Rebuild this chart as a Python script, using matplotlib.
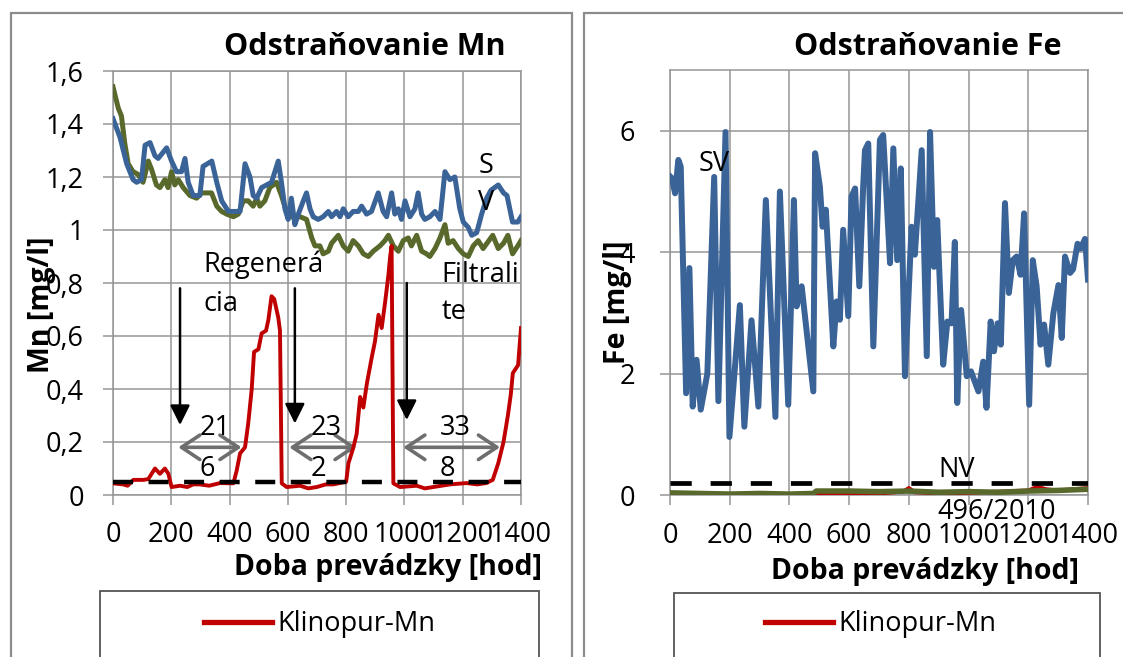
import matplotlib
matplotlib.use("Agg")
import matplotlib.pyplot as plt
from matplotlib.patches import Rectangle
from matplotlib.ticker import FuncFormatter
import numpy as np

plt.rcParams['font.family'] = ['Open Sans', 'DejaVu Sans']

# ---- Mn panel data ----
mn_sv = [(0, 1.42), (24, 1.35), (47, 1.25), (69, 1.19), (81, 1.18), (98, 1.19), (110, 1.32),
         (127, 1.33), (144, 1.28), (155, 1.27), (184, 1.31), (201, 1.26), (218, 1.22), (235, 1.22),
         (247, 1.27), (258, 1.18), (275, 1.13), (298, 1.13), (309, 1.24), (339, 1.26), (356, 1.18),
         (373, 1.11), (396, 1.07), (419, 1.07), (436, 1.07), (453, 1.25), (470, 1.20), (481, 1.13),
         (493, 1.12), (510, 1.16), (527, 1.17), (544, 1.18), (567, 1.26), (578, 1.18), (590, 1.08),
         (601, 1.04), (612, 1.12), (624, 1.02), (636, 1.06), (653, 1.11), (664, 1.14), (676, 1.08),
         (687, 1.05), (704, 1.04), (721, 1.05), (739, 1.07), (750, 1.05), (767, 1.07), (779, 1.05),
         (790, 1.08), (807, 1.05), (824, 1.07), (842, 1.07), (853, 1.09), (870, 1.06), (887, 1.07),
         (910, 1.14), (927, 1.07), (939, 1.05), (956, 1.14), (967, 1.06), (979, 1.08), (990, 1.04),
         (1002, 1.11), (1019, 1.05), (1036, 1.08), (1047, 1.14), (1059, 1.06), (1070, 1.04),
         (1087, 1.05), (1105, 1.07), (1122, 1.04), (1139, 1.22), (1156, 1.19), (1173, 1.20),
         (1190, 1.08), (1202, 1.03), (1219, 1.01), (1231, 0.98), (1248, 0.99), (1265, 1.06),
         (1282, 1.12), (1297, 1.15), (1322, 1.17), (1340, 1.14), (1352, 1.13), (1371, 1.03),
         (1389, 1.03), (1400, 1.05)]
mn_filt = [(0, 1.54), (18, 1.46), (29, 1.43), (40, 1.33), (52, 1.25), (69, 1.22), (86, 1.21),
           (103, 1.18), (121, 1.26), (132, 1.23), (149, 1.17), (161, 1.16), (178, 1.19), (189, 1.16),
           (201, 1.22), (212, 1.17), (224, 1.19), (241, 1.16), (264, 1.13), (287, 1.12), (304, 1.14),
           (321, 1.14), (338, 1.14), (356, 1.09), (373, 1.07), (390, 1.06), (413, 1.05), (430, 1.06),
           (447, 1.11), (464, 1.11), (481, 1.09), (493, 1.12), (504, 1.09), (521, 1.11), (538, 1.16),
           (561, 1.18), (578, 1.13), (595, 1.07), (607, 1.05), (642, 1.05), (664, 1.04), (682, 0.97),
           (693, 0.94), (710, 0.94), (721, 0.91), (739, 0.92), (750, 0.95), (773, 0.98), (790, 0.94),
           (807, 0.92), (824, 0.96), (842, 0.94), (859, 0.91), (876, 0.90), (893, 0.92), (916, 0.94),
           (933, 0.96), (945, 0.98), (962, 0.94), (979, 0.92), (996, 0.96), (1013, 0.97), (1024, 0.94),
           (1042, 0.98), (1059, 0.92), (1076, 0.91), (1087, 0.90), (1105, 0.93), (1122, 0.97),
           (1139, 1.02), (1150, 0.95), (1167, 0.96), (1185, 0.93), (1202, 0.91), (1219, 0.90),
           (1236, 0.94), (1253, 0.96), (1270, 0.93), (1303, 0.98), (1322, 0.93), (1340, 0.95),
           (1355, 0.98), (1371, 0.91), (1389, 0.94), (1400, 0.96)]
mn_klin = [(0, 0.044), (35, 0.04), (50, 0.035), (70, 0.057), (104, 0.057), (121, 0.06), (144, 0.10),
           (161, 0.08), (178, 0.10), (190, 0.08), (201, 0.03), (230, 0.035), (255, 0.03), (275, 0.04),
           (298, 0.04), (330, 0.035), (367, 0.045), (413, 0.044), (424, 0.09), (436, 0.157),
           (453, 0.18), (464, 0.27), (476, 0.40), (484, 0.54), (499, 0.55), (510, 0.61), (525, 0.62),
           (533, 0.66), (544, 0.75), (553, 0.74), (567, 0.67), (573, 0.62), (579, 0.044), (596, 0.03),
           (642, 0.035), (670, 0.025), (699, 0.03), (730, 0.04), (756, 0.04), (800, 0.05), (808, 0.12),
           (825, 0.18), (836, 0.23), (848, 0.37), (859, 0.33), (871, 0.42), (888, 0.52), (899, 0.58),
           (911, 0.68), (922, 0.63), (934, 0.73), (945, 0.83), (951, 0.90), (956, 0.94), (962, 0.044),
           (985, 0.03), (1042, 0.035), (1070, 0.025), (1099, 0.03), (1156, 0.04), (1213, 0.045),
           (1250, 0.04), (1280, 0.045), (1303, 0.057), (1322, 0.12), (1340, 0.20), (1355, 0.30),
           (1365, 0.38), (1372, 0.46), (1390, 0.49), (1400, 0.63)]
mn_limit = 0.05
mn_yticks = [0, 0.2, 0.4, 0.6, 0.8, 1.0, 1.2, 1.4, 1.6]
# regeneration arrows (x, y_from, y_to) and run lengths (x_start, x_end, label lines)
regen_arrows = [(230, 0.78, 0.264), (624, 0.78, 0.27), (1008, 0.80, 0.283)]
run_spans = [(224, 441, "21", "6"), (605, 836, "23", "2"), (996, 1328, "33", "8")]
run_label_x = [298, 677, 1122]

# ---- Fe panel data ----
fe_sv = [(0, 5.25), (6, 5.22), (17, 4.97), (28, 5.52), (36, 5.41), (54, 1.68), (65, 3.74), (76, 1.46),
         (89, 2.23), (103, 1.41), (125, 2.0), (148, 5.24), (162, 1.55), (186, 5.98), (199, 0.96),
         (234, 3.13), (249, 1.13), (273, 2.88), (296, 1.46), (321, 4.86), (353, 1.29), (368, 5.0),
         (396, 1.49), (415, 4.86), (424, 3.11), (441, 3.44), (480, 1.71), (486, 5.63), (502, 5.08),
         (511, 4.42), (522, 4.70), (547, 2.45), (558, 3.19), (569, 2.89), (580, 4.37), (597, 2.95),
         (608, 4.92), (620, 5.05), (634, 3.44), (647, 5.08), (653, 5.68), (664, 5.79), (681, 2.45),
         (703, 5.85), (714, 5.93), (737, 3.82), (748, 5.71), (761, 3.87), (773, 5.38), (787, 1.96),
         (809, 4.42), (820, 3.96), (843, 5.68), (860, 2.29), (871, 5.98), (884, 3.76), (895, 4.53),
         (915, 2.15), (929, 2.86), (943, 2.83), (954, 4.17), (962, 1.52), (975, 3.05), (994, 1.96),
         (1008, 2.04), (1033, 1.71), (1049, 2.20), (1060, 1.44), (1074, 2.86), (1085, 2.37),
         (1097, 2.83), (1108, 2.48), (1122, 4.81), (1135, 3.33), (1148, 3.87), (1161, 3.93),
         (1174, 3.63), (1186, 4.64), (1203, 1.49), (1215, 3.87), (1228, 3.44), (1241, 2.48),
         (1253, 2.81), (1267, 2.15), (1284, 3.0), (1301, 3.46), (1312, 2.59), (1323, 3.93),
         (1340, 3.66), (1350, 3.72), (1365, 4.14), (1375, 4.06), (1390, 4.22), (1400, 3.55)]
fe_filt = [(0, 0.04), (100, 0.03), (200, 0.02), (300, 0.03), (400, 0.02), (480, 0.03), (490, 0.07),
           (600, 0.07), (700, 0.06), (800, 0.07), (900, 0.05), (1000, 0.06), (1100, 0.05),
           (1200, 0.07), (1300, 0.08), (1400, 0.10)]
fe_klin = [(0, 0.03), (100, 0.02), (200, 0.01), (300, 0.02), (400, 0.02), (500, 0.03), (600, 0.02),
           (700, 0.03), (780, 0.06), (800, 0.12), (820, 0.05), (900, 0.03), (1000, 0.04), (1100, 0.06),
           (1200, 0.08), (1230, 0.14), (1260, 0.10), (1300, 0.08), (1400, 0.12)]
fe_limit = 0.2
fe_yticks = [0, 2, 4, 6]
x_ticks = [0, 200, 400, 600, 800, 1000, 1200, 1400]

c_sv = '#3A6397'
c_filt = '#58692B'
c_klin = '#C00000'
c_grid = '#969696'
c_frame = '#8C8C8C'
W, H = 1123, 657
FS = 19.5     # tick / annotation text
FS_B = 20.5   # bold axis titles

fig = plt.figure(figsize=(11.23, 6.57), dpi=100)


def fx(px):
    return px / W


def fy(py):
    return 1 - py / H


def style_axes(ax, yticks, ymax):
    ax.set_xlim(0, 1400)
    ax.set_ylim(0, ymax)
    ax.set_xticks(x_ticks)
    ax.set_yticks(yticks)
    ax.yaxis.set_major_formatter(FuncFormatter(lambda v, p: f"{v:g}".replace('.', ',')))
    ax.grid(True, color=c_grid, lw=1.1)
    ax.set_axisbelow(True)
    for s in ax.spines.values():
        s.set_color(c_grid)
        s.set_linewidth(1.1)
    ax.tick_params(axis='both', direction='out', length=7, width=1.1, color=c_grid,
                   labelsize=FS)
    ax.tick_params(axis='y', pad=14)
    ax.tick_params(axis='x', pad=12)


def xy(series):
    arr = np.array(series)
    return arr[:, 0], arr[:, 1]


# panel frames
fig.add_artist(Rectangle((fx(10.7), -0.2), fx(572 - 10.7), fy(13) + 0.2, transform=fig.transFigure,
                         fill=False, ec=c_frame, lw=1.6))
fig.add_artist(Rectangle((fx(584), -0.2), 0.6, fy(13) + 0.2, transform=fig.transFigure,
                         fill=False, ec=c_frame, lw=1.6))

# ---------- Mn ----------
ax1 = fig.add_axes([fx(113), fy(495), fx(521 - 113), fy(71) - fy(495)])
style_axes(ax1, mn_yticks, 1.6)
line_k, = ax1.plot(*xy(mn_klin), color=c_klin, lw=2.8, label='Klinopur-Mn', zorder=4)
ax1.plot(*xy(mn_filt), color=c_filt, lw=3.6, zorder=3)
ax1.plot(*xy(mn_sv), color=c_sv, lw=3.6, zorder=3)
ax1.axhline(mn_limit, color='black', lw=3.2, ls=(0, (4.5, 3.5)), zorder=5)

for x, y0, y1 in regen_arrows:
    ax1.annotate('', xy=(x, y1), xytext=(x, y0),
                 arrowprops=dict(arrowstyle='-|>,head_length=0.6,head_width=0.3', color='black',
                                 lw=1.8, mutation_scale=20, shrinkA=0, shrinkB=0))
for x0, x1, top, bot in run_spans:
    ax1.annotate('', xy=(x1, 0.18), xytext=(x0, 0.18),
                 arrowprops=dict(arrowstyle='<->,head_length=0.6,head_width=0.4', color='#6E6E6E',
                                 lw=2.6, mutation_scale=22, shrinkA=0, shrinkB=0))
for (x0, x1, top, bot), tx in zip(run_spans, run_label_x):
    ax1.text(tx, 0.253, top, fontsize=FS, ha='left', va='center', zorder=6)
    ax1.text(tx, 0.10, bot, fontsize=FS, ha='left', va='center', zorder=6)

ax1.text(310, 0.87, "Regenerá", fontsize=FS, ha='left', va='center')
ax1.text(310, 0.72, "cia", fontsize=FS, ha='left', va='center')
ax1.text(1128, 0.83, "Filtrali", fontsize=FS, ha='left', va='center')
ax1.text(1128, 0.69, "te", fontsize=FS, ha='left', va='center')
ax1.text(1253, 1.24, "S", fontsize=FS, ha='left', va='center')
ax1.text(1253, 1.10, "V", fontsize=FS, ha='left', va='center')

fig.text(fx(365), fy(47), "Odstraňovanie Mn", fontsize=22, fontweight='bold', ha='center', va='center')
fig.text(fx(388), fy(567), "Doba prevádzky [hod]", fontsize=FS_B, fontweight='bold', ha='center', va='center')
fig.text(fx(41), fy(305), "Mn [mg/l]", fontsize=FS_B, fontweight='bold', rotation=90, ha='center', va='center')

# ---------- Fe ----------
ax2 = fig.add_axes([fx(670), fy(495.3), fx(1088 - 670), fy(70) - fy(495.3)])
style_axes(ax2, fe_yticks, 7)
ax2.tick_params(axis='y', pad=18)
line_k2, = ax2.plot(*xy(fe_klin), color=c_klin, lw=2.8, label='Klinopur-Mn', zorder=3)
ax2.plot(*xy(fe_filt), color=c_filt, lw=4.0, zorder=3)
ax2.plot(*xy(fe_sv), color=c_sv, lw=4.3, zorder=4)
ax2.axhline(fe_limit, color='black', lw=3.4, ls=(0, (4.5, 4)), zorder=5)
ax2.text(95, 5.46, "SV", fontsize=FS, ha='left', va='center', zorder=6)
ax2.text(898, 0.42, "NV", fontsize=FS, ha='left', va='center', zorder=6)
ax2.text(894, -0.27, "496/2010", fontsize=FS, ha='left', va='center', zorder=6)

fig.text(fx(927.5), fy(47), "Odstraňovanie Fe", fontsize=22, fontweight='bold', ha='center', va='center')
fig.text(fx(925), fy(572), "Doba prevádzky [hod]", fontsize=FS_B, fontweight='bold', ha='center', va='center')
fig.text(fx(618), fy(302), "Fe [mg/l]", fontsize=FS_B, fontweight='bold', rotation=90, ha='center', va='center')

# legends (box continues below the visible area)
fig.add_artist(Rectangle((fx(100), -0.2), fx(539 - 100), fy(591) + 0.2, transform=fig.transFigure,
                         fill=False, ec='#555555', lw=1.3))
fig.add_artist(Rectangle((fx(673.5), -0.2), fx(1100 - 673.5), fy(593) + 0.2, transform=fig.transFigure,
                         fill=False, ec='#555555', lw=1.3))
for ax, h, lx in [(ax1, line_k, 204), (ax2, line_k2, 765)]:
    leg = ax.legend(handles=[h], loc='center left', bbox_to_anchor=(fx(lx), fy(624)),
                    bbox_transform=fig.transFigure, frameon=False, fontsize=FS,
                    handlelength=2.5, handletextpad=0.2, borderpad=0, borderaxespad=0)
    leg.get_lines()[0].set_linewidth(3.8)

fig.savefig("out.png", dpi=100)
